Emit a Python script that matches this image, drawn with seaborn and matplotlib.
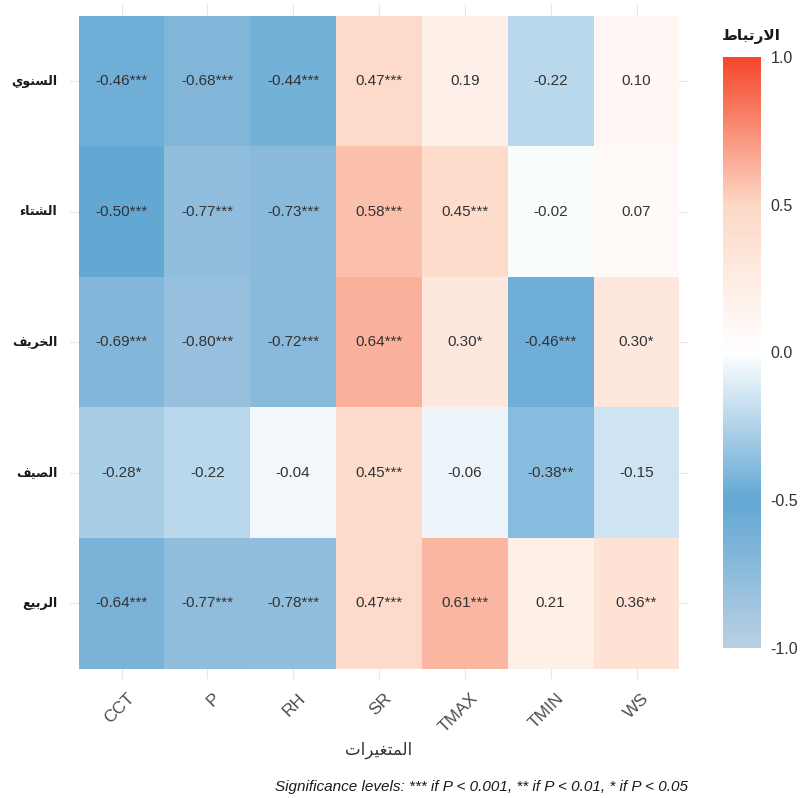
import numpy as np
import pandas as pd
import matplotlib
matplotlib.use('Agg')
import matplotlib.pyplot as plt
from matplotlib.colors import LinearSegmentedColormap
import seaborn as sns

# ---------------------------------------------------------------
# data
# ---------------------------------------------------------------
seasons = ['السنوي', 'الشتاء', 'الخريف', 'الصيف', 'الربيع']
variables = ['CCT', 'P', 'RH', 'SR', 'TMAX', 'TMIN', 'WS']

corr = [
    [-0.46, -0.68, -0.44, 0.47, 0.19, -0.22, 0.10],
    [-0.50, -0.77, -0.73, 0.58, 0.45, -0.02, 0.07],
    [-0.69, -0.80, -0.72, 0.64, 0.30, -0.46, 0.30],
    [-0.28, -0.22, -0.04, 0.45, -0.06, -0.38, -0.15],
    [-0.64, -0.77, -0.78, 0.47, 0.61, 0.21, 0.36],
]
stars = [
    ['***', '***', '***', '***', '', '', ''],
    ['***', '***', '***', '***', '***', '', ''],
    ['***', '***', '***', '***', '*', '***', '*'],
    ['*', '', '', '***', '', '**', ''],
    ['***', '***', '***', '***', '***', '', '**'],
]
cbar_ticks = [-1.0, -0.5, 0.0, 0.5, 1.0]

x_title = 'المتغيرات'
legend_title = 'الارتباط'
caption = 'Significance levels: *** if P < 0.001, ** if P < 0.01, * if P < 0.05'

# ---------------------------------------------------------------
# matplotlib has no arabic shaping, so pick presentation forms by hand
# (isolated, final, initial, medial)
# ---------------------------------------------------------------
FORMS = {
    'ا': (0xFE8D, 0xFE8E, None, None),
    'ب': (0xFE8F, 0xFE90, 0xFE91, 0xFE92),
    'ت': (0xFE95, 0xFE96, 0xFE97, 0xFE98),
    'خ': (0xFEA5, 0xFEA6, 0xFEA7, 0xFEA8),
    'ر': (0xFEAD, 0xFEAE, None, None),
    'س': (0xFEB1, 0xFEB2, 0xFEB3, 0xFEB4),
    'ش': (0xFEB5, 0xFEB6, 0xFEB7, 0xFEB8),
    'ص': (0xFEB9, 0xFEBA, 0xFEBB, 0xFEBC),
    'ط': (0xFEC1, 0xFEC2, 0xFEC3, 0xFEC4),
    'ع': (0xFEC9, 0xFECA, 0xFECB, 0xFECC),
    'غ': (0xFECD, 0xFECE, 0xFECF, 0xFED0),
    'ف': (0xFED1, 0xFED2, 0xFED3, 0xFED4),
    'ل': (0xFEDD, 0xFEDE, 0xFEDF, 0xFEE0),
    'م': (0xFEE1, 0xFEE2, 0xFEE3, 0xFEE4),
    'ن': (0xFEE5, 0xFEE6, 0xFEE7, 0xFEE8),
    'و': (0xFEED, 0xFEEE, None, None),
    'ي': (0xFEF1, 0xFEF2, 0xFEF3, 0xFEF4),
    'ء': (0xFE80, None, None, None),
}


def dual(c):
    return c in FORMS and FORMS[c][2] is not None


def joins(c):
    return c in FORMS and FORMS[c][1] is not None


def shape_ar(word):
    out = []
    i = 0
    while i < len(word):
        c = word[i]
        j_prev = i > 0 and dual(word[i - 1]) and joins(c)
        if c == 'ل' and i + 1 < len(word) and word[i + 1] == 'ا':
            out.append(chr(0xFEFC if j_prev else 0xFEFB))
            i += 2
            continue
        j_next = dual(c) and i + 1 < len(word) and joins(word[i + 1])
        iso, fin, ini, med = FORMS[c]
        if j_prev and j_next:
            code = med
        elif j_prev:
            code = fin
        elif j_next:
            code = ini
        else:
            code = iso
        out.append(chr(code))
        i += 1
    return ''.join(reversed(out))


# ---------------------------------------------------------------
# plot
# ---------------------------------------------------------------
sns.set_theme(style='white')
plt.rcParams['font.family'] = ['Liberation Sans', 'DejaVu Sans']

df = pd.DataFrame(corr, index=seasons, columns=variables)
annot = np.array([[f'{v:.2f}{s}' for v, s in zip(rv, rs)] for rv, rs in zip(corr, stars)])

cmap = LinearSegmentedColormap.from_list(
    'corr', [(0.0, '#b8d0e4'), (0.25, '#62a7d3'), (0.5, '#ffffff'),
             (0.75, '#fdd8c6'), (1.0, '#f4472b')])

fig = plt.figure(figsize=(8.09, 7.98), dpi=100)
ax = fig.add_axes([70 / 809, 1 - 679 / 798, 618 / 809, 675 / 798])
cax = fig.add_axes([723 / 809, 1 - 648 / 798, 38 / 809, 591 / 798])

sns.heatmap(df, annot=annot, fmt='', cmap=cmap, vmin=-1, vmax=1, ax=ax, cbar_ax=cax,
            annot_kws={'size': 11, 'color': '#333333'})

# light grid peeking out around the tiles
ax.grid(True, which='major', color='#e6e6e6', linewidth=0.8)
ax.set_axisbelow(True)
ax.set_xlim(-0.1, 7.1)
ax.set_ylim(5.08, -0.09)

# major x ticks carry the grid, labels sit on minor ticks nudged right
centers = np.arange(len(variables)) + 0.5
ax.set_xticks(centers)
ax.set_xticklabels([''] * len(variables))
ax.set_xticks(centers + 0.12, minor=True)
ax.set_xticklabels(variables, minor=True, rotation=45, ha='right', va='center',
                   rotation_mode='anchor', fontsize=12.5, color='#4d4d4d')
ax.set_yticklabels([shape_ar(s) for s in seasons], rotation=0, fontsize=9,
                   fontweight='bold', color='#1a1a1a')
ax.tick_params(axis='x', which='both', length=0, pad=12)
ax.tick_params(axis='y', length=0, pad=9)
ax.set_ylabel('')
ax.set_xlabel(shape_ar(x_title), fontsize=12, color='#333333', labelpad=5)

cbar = ax.collections[0].colorbar
cbar.outline.set_visible(False)
cbar.set_ticks(cbar_ticks)
cbar.set_ticklabels([f'{t:.1f}' for t in cbar_ticks])
cax.tick_params(left=True, right=True, direction='in', length=6, width=1,
                color='white', labelleft=False, labelright=True,
                labelsize=11.5, labelcolor='#333333', pad=7)

fig.text(722 / 809, 1 - 37 / 798, shape_ar(legend_title), fontsize=11,
         fontweight='bold', color='#1a1a1a', ha='left', va='center')
fig.text(688 / 809, 1 - 787 / 798, caption, fontsize=11, style='italic',
         color='#1a1a1a', ha='right', va='center')

plt.savefig('out.png', dpi=100)
